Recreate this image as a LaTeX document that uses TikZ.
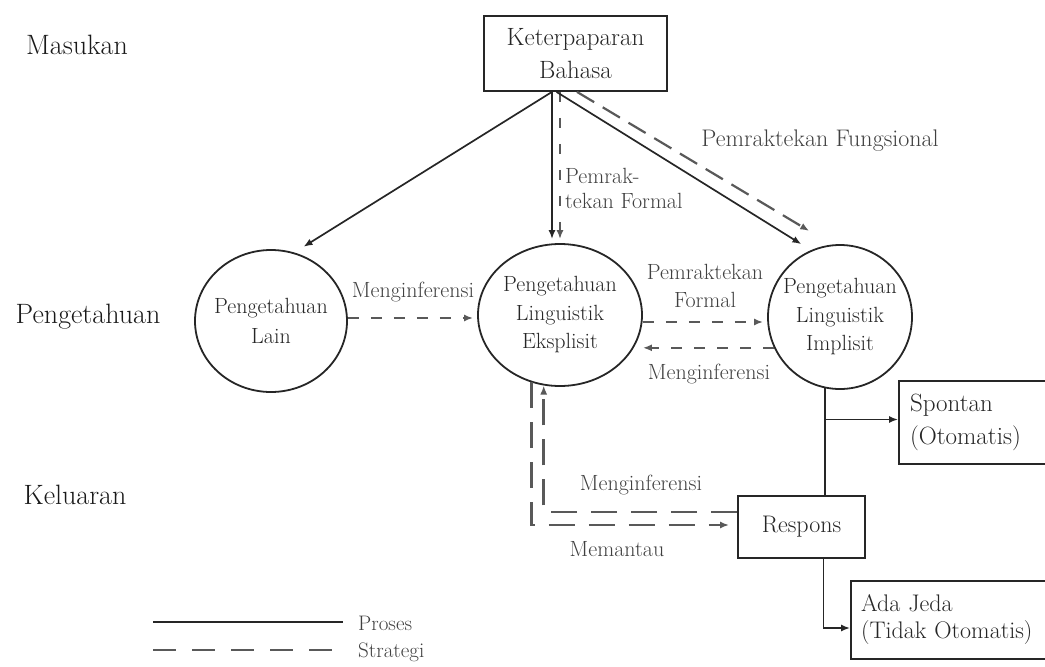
\documentclass[tikz,border=0pt]{standalone}
\usetikzlibrary{shapes.geometric,arrows.meta}
\begin{document}
\begin{tikzpicture}[x=1pt,y=-1pt,
  tip/.style={-{Latex[length=9pt,width=7pt]}},
  circ/.style={ellipse, draw=black!85, line width=1.8pt, inner sep=-20pt, align=center,
    font=\fontsize{22}{28.5}\selectfont, text=black!85},
  boxn/.style={rectangle, draw=black!85, line width=1.8pt, inner sep=0pt,
    font=\fontsize{24}{31}\selectfont, text=black!85},
  proc/.style={draw=black!85, line width=1.7pt},
  strat/.style={draw=black!65, line width=2.6pt},
  lbl/.style={font=\fontsize{22}{28}\selectfont, text=black!75, inner sep=0pt},
  side/.style={font=\fontsize{28}{32}\selectfont, text=black!90, inner sep=0pt}]
\useasboundingbox (0,0) rectangle (1045,667);

% nodes
\node[boxn, minimum width=183pt, minimum height=75pt, align=center, font=\fontsize{25}{33}\selectfont] (src) at (575.5,53.5) {Keterpaparan\\Bahasa};
\node[circ, minimum width=152pt, minimum height=142pt, font=\fontsize{22}{30}\selectfont] (lain) at (271,321) {Pengetahuan\\Lain};
\node[circ, minimum width=164pt, minimum height=142pt] (eks) at (560,315) {Pengetahuan\\Linguistik\\Eksplisit};
\node[circ, minimum width=144pt, minimum height=144pt] (imp) at (840,317) {Pengetahuan\\Linguistik\\Implisit};
\node[boxn, minimum width=156pt, minimum height=83pt, align=left, text width=134pt, font=\fontsize{25}{33}\selectfont] (spon) at (977,422.5) {Spontan\\(Otomatis)};
\node[boxn, minimum width=127pt, minimum height=62pt] (resp) at (801.5,527) {Respons};
\node[boxn, minimum width=204pt, minimum height=78pt, align=left, text width=184pt, font=\fontsize{24}{27}\selectfont] (ada) at (953,620) {Ada Jeda\\(Tidak Otomatis)};

% side labels
\node[side] (masuk) at (77,45) {Masukan};
\node[side] (peng) at (88,317) {Pengetahuan};
\node[side] (kel) at (75,495) {Keluaran};

% connector labels
\node[lbl, align=left, anchor=west, font=\fontsize{22}{25}\selectfont] (pf1) at (565,188) {Pemrak-\\tekan Formal};
\node[lbl, font=\fontsize{24}{28}\selectfont] (pfung) at (820,141) {Pemraktekan Fungsional};
\node[lbl] (inf1) at (413,292) {Menginferensi};
\node[lbl, align=center] (pf2) at (705,286) {Pemraktekan\\Formal};
\node[lbl] (inf2) at (709,374) {Menginferensi};
\node[lbl] (inf3) at (641,485) {Menginferensi};
\node[lbl] (mem) at (617,549) {Memantau};

% connectors from the source box
\coordinate (o1) at ([xshift=-23.5pt]src.south);
\coordinate (o2) at ([xshift=-15.5pt]src.south);
\coordinate (o3) at ([xshift=-19pt]src.south);
\coordinate (o4) at ([xshift=1.5pt]src.south);
\draw[proc,tip] (o1) -- ([xshift=-4pt,yshift=11pt]lain.60);
\draw[proc,tip] (o1) -- ([xshift=-8pt,yshift=4pt]eks.north);
\draw[strat,line width=2.2pt,dash pattern=on 10pt off 16pt,tip] (o2) -- ([yshift=4pt]eks.north);
\draw[proc,tip] (o3) -- ([yshift=11pt]imp.122);
\draw[strat,line width=2.2pt,dash pattern=on 20pt off 10pt,tip] (o4) -- ([yshift=20pt]imp.115);

% between circles
\draw[strat,dash pattern=on 11pt off 12pt,tip,shorten >=4pt] ([yshift=3pt]lain.east) -- ([yshift=3pt]eks.west |- lain.east);
\draw[strat,dash pattern=on 11pt off 12pt,tip,shorten >=4pt] ([yshift=-7pt]eks.east) -- ([yshift=-7pt]eks.east -| imp.west);
\draw[strat,dash pattern=on 11pt off 12pt,tip] (imp.205) -- (imp.205 -| eks.east);

% lower strategies
\draw[strat,dash pattern=on 26pt off 14pt,tip,shorten >=8pt] (eks.247) |- ([yshift=2pt]resp.west);
\draw[strat,dash pattern=on 26pt off 14pt,tip] ([yshift=15pt]resp.west) -| (eks.-103);

% outputs
\coordinate (br) at (imp.258 |- spon.west);
\draw[proc] (imp.258) -- (imp.258 |- resp.north);
\draw[proc,tip] ([yshift=3pt]br) -- ([yshift=3pt]spon.west);
\draw[proc,tip] ([xshift=22pt]resp.south) |- ([yshift=-8pt]ada.west);

% legend
\coordinate (pa) at (153,622);
\coordinate (pb) at (343,622);
\coordinate (sa) at (153,650);
\coordinate (sb) at (343,650);
\draw[proc] (pa) -- (pb);
\draw[strat,dash pattern=on 23pt off 16pt] (sa) -- (sb);
\node[lbl, anchor=west, font=\fontsize{21}{24}\selectfont] (proses) at (358,623) {Proses};
\node[lbl, anchor=west, font=\fontsize{21}{24}\selectfont] (strategi) at (358,652) {Strategi};
\end{tikzpicture}
\end{document}
